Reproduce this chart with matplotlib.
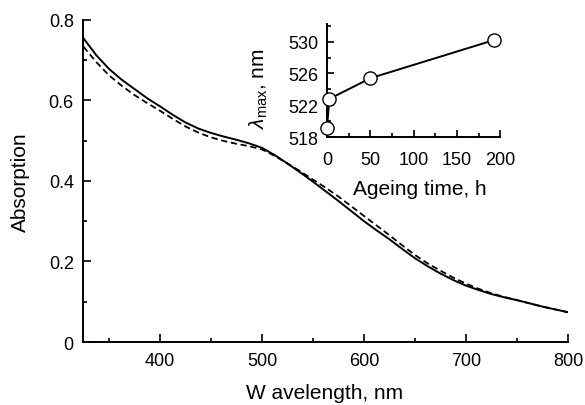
import numpy as np
import matplotlib.pyplot as plt

plt.rcParams['font.family'] = ['Liberation Sans', 'DejaVu Sans']
plt.rcParams['mathtext.fontset'] = 'custom'
plt.rcParams['mathtext.rm'] = 'Liberation Sans'
plt.rcParams['mathtext.it'] = 'Liberation Sans:italic'

# absorption spectra
wavelength = [325, 337.5, 350, 362.5, 375, 387.5, 400, 412.5, 425, 437.5, 450, 462.5,
              475, 487.5, 500, 512.5, 525, 537.5, 550, 562.5, 575, 587.5, 600,
              612.5, 625, 637.5, 650, 662.5, 675, 687.5, 700, 712.5, 725, 737.5,
              750, 762.5, 775, 787.5, 800]
abs_solid = [0.754, 0.712, 0.678, 0.651, 0.628, 0.605, 0.585, 0.564, 0.545, 0.530, 0.519, 0.510,
             0.502, 0.493, 0.482, 0.464, 0.443, 0.421, 0.398, 0.374, 0.350, 0.325, 0.300,
             0.277, 0.255, 0.231, 0.208, 0.188, 0.170, 0.154, 0.140, 0.129, 0.119, 0.111,
             0.104, 0.096, 0.088, 0.081, 0.074]
abs_dashed = [0.733, 0.695, 0.662, 0.636, 0.613, 0.593, 0.574, 0.554, 0.535, 0.520, 0.508, 0.499,
              0.492, 0.486, 0.478, 0.462, 0.443, 0.424, 0.403, 0.383, 0.361, 0.337, 0.313,
              0.289, 0.265, 0.240, 0.216, 0.195, 0.177, 0.160, 0.145, 0.132, 0.121, 0.112,
              0.104, 0.096, 0.088, 0.081, 0.074]

# inset: peak position vs ageing time
age_h = [0, 2.7, 50, 193]
lam_max = [519.2, 522.8, 525.4, 530.2]

fig = plt.figure(figsize=(5.85, 4.06), dpi=100)
ax = fig.add_axes([0.1427, 0.155, 0.8283, 0.794])

ax.plot(wavelength, abs_solid, color='black', lw=1.4)
ax.plot(wavelength, abs_dashed, color='black', lw=1.3, linestyle=(0, (3.5, 2)))

ax.set_xlim(325, 800)
ax.set_ylim(0, 0.8)
ax.set_xticks([400, 500, 600, 700, 800])
ax.set_xticks(np.arange(350, 800, 100), minor=True)
ax.set_yticks([0, 0.2, 0.4, 0.6, 0.8])
ax.set_yticklabels(['0', '0.2', '0.4', '0.6', '0.8'])
ax.set_yticks([0.1, 0.3, 0.5, 0.7], minor=True)
for s in ['top', 'right']:
    ax.spines[s].set_visible(False)
for s in ['left', 'bottom']:
    ax.spines[s].set_linewidth(1.4)
ax.tick_params(which='both', direction='in', width=1.2, labelsize=13)
ax.tick_params(which='major', length=5.5)
ax.tick_params(which='minor', length=3)
ax.tick_params(axis='x', pad=7)
ax.tick_params(axis='y', pad=7)
ax.set_xlabel('W avelength, nm', fontsize=15)
ax.set_ylabel('Absorption', fontsize=15)
ax.xaxis.set_label_coords(0.498, -0.128)
ax.yaxis.set_label_coords(-0.11, 0.5)

# inset
ins = fig.add_axes([0.559, 0.660, 0.296, 0.278])
ins.plot(age_h, lam_max, color='black', lw=1.4, marker='o', markersize=9.5,
         markerfacecolor='white', markeredgecolor='black', markeredgewidth=1.0,
         clip_on=False, zorder=5)
ins.set_xlim(0, 200)
ins.set_ylim(518, 532.2)
ins.set_xticks([0, 50, 100, 150, 200])
ins.set_xticks([25, 75, 125, 175], minor=True)
ins.set_yticks([518, 522, 526, 530])
ins.set_yticks([520, 524, 528, 532], minor=True)
for s in ['top', 'right']:
    ins.spines[s].set_visible(False)
for s in ['left', 'bottom']:
    ins.spines[s].set_linewidth(1.4)
ins.tick_params(which='both', direction='in', width=1.2, labelsize=13)
ins.tick_params(which='major', length=5)
ins.tick_params(which='minor', length=3)
ins.tick_params(axis='x', pad=10)
ins.tick_params(axis='y', pad=6)
ins.set_xlabel('Ageing time, h', fontsize=15)
ins.set_ylabel(r'$\lambda_{\rm max}$, nm', fontsize=15)
ins.xaxis.set_label_coords(0.537, -0.37)
ins.yaxis.set_label_coords(-0.33, 0.44)

fig.savefig('out.png', dpi=100)
